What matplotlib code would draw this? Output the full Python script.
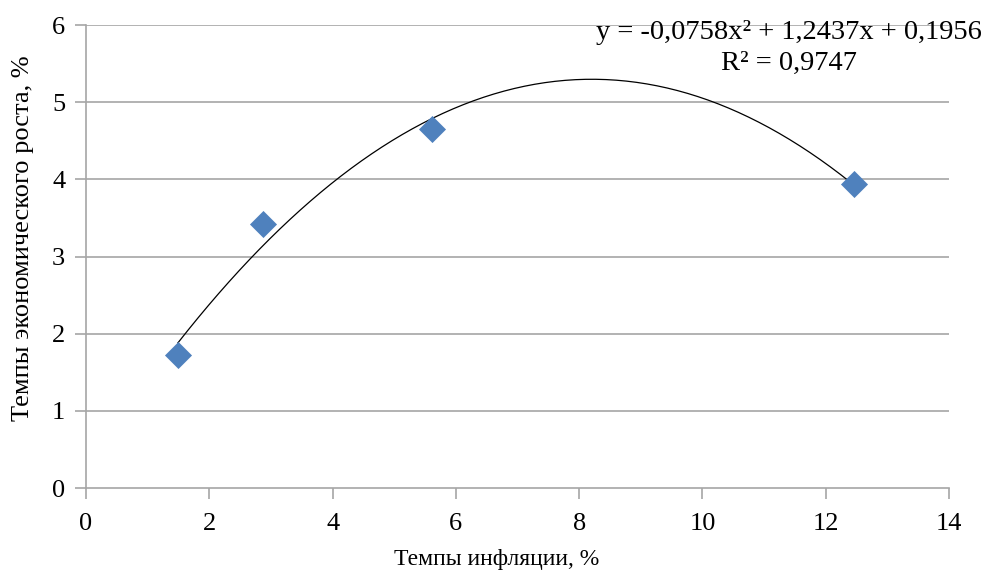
import numpy as np
import matplotlib
matplotlib.use('Agg')
import matplotlib.pyplot as plt

# данные
inflation = [1.49, 2.87, 5.61, 12.46]
growth = [1.72, 3.42, 4.65, 3.94]
trend_coef = [-0.0758, 1.2437, 0.1956]
eq_text = 'y = -0,0758x\u00b2 + 1,2437x + 0,1956'
r2_text = 'R\u00b2 = 0,9747'
x_ticks = [0, 2, 4, 6, 8, 10, 12, 14]
y_ticks = [0, 1, 2, 3, 4, 5, 6]

plt.rcParams['font.family'] = ['Liberation Serif', 'DejaVu Serif']

fig = plt.figure(figsize=(9.89, 5.78), dpi=100)
ax = fig.add_axes([0.087, 0.1557, 0.8726, 0.801])

grid_c = '#a6a6a6'
for yv in y_ticks[1:]:
    ax.axhline(yv, color=grid_c, lw=1.2, zorder=1)

xx = np.linspace(min(inflation), max(inflation), 200)
ax.plot(xx, np.polyval(trend_coef, xx), color='black', lw=0.9, zorder=2)
ax.scatter(inflation, growth, marker='D', s=190, color='#4f81bd', zorder=3, linewidths=0)

ax.set_xlim(0, 14)
ax.set_ylim(0, 6)
ax.set_xticks(x_ticks)
ax.set_yticks(y_ticks)
for s in ['top', 'right']:
    ax.spines[s].set_visible(False)
for s in ['left', 'bottom']:
    ax.spines[s].set_color(grid_c)
    ax.spines[s].set_linewidth(1.2)
ax.tick_params(axis='both', direction='out', length=8, width=1.2, color=grid_c,
               labelsize=19)
ax.tick_params(axis='x', pad=10)
ax.tick_params(axis='y', pad=7)

ax.set_xlabel('Темпы инфляции, %', fontsize=17)
ax.xaxis.set_label_coords(0.476, -0.132)
ax.set_ylabel('Темпы экономического роста, %', fontsize=19)
ax.yaxis.set_label_coords(-0.06, 0.54)

ax.text(11.40, 5.907, eq_text, fontsize=20.5, ha='center', va='center', zorder=4)
ax.text(11.40, 5.505, r2_text, fontsize=20.5, ha='center', va='center', zorder=4)

fig.savefig('out.png', dpi=100)
